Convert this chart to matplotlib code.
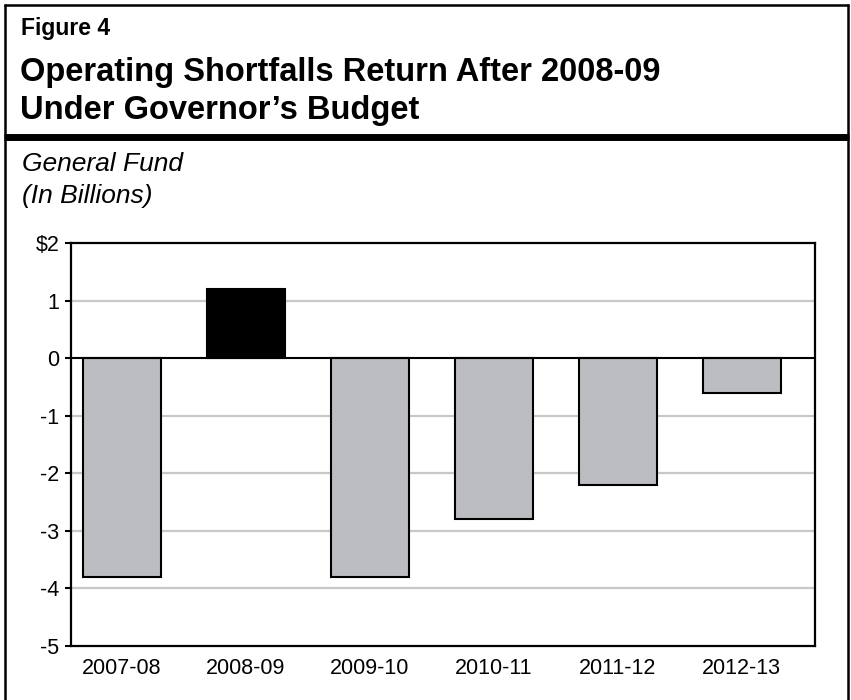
import matplotlib
matplotlib.use("Agg")
import matplotlib.pyplot as plt
from matplotlib.lines import Line2D

# Operating balance by fiscal year, General Fund ($ billions)
years = ["2007-08", "2008-09", "2009-10", "2010-11", "2011-12", "2012-13"]
balance = [-3.8, 1.2, -3.8, -2.8, -2.2, -0.6]
bar_colors = ["#bcbdc0", "#000000", "#bcbdc0", "#bcbdc0", "#bcbdc0", "#bcbdc0"]
y_ticks = [2, 1, 0, -1, -2, -3, -4, -5]
y_tick_labels = ["$2", "1", "0", "-1", "-2", "-3", "-4", "-5"]

W, H = 851, 700
plt.rcParams["font.family"] = ["Liberation Sans", "DejaVu Sans"]
fig = plt.figure(figsize=(W / 100, H / 100), dpi=100)

def fx(px):
    return px / W

def fy(py):
    return 1 - py / H

# Frame around the figure and the heavy rule under the heading
frame_kw = dict(color="black", transform=fig.transFigure, solid_capstyle="butt")
fig.add_artist(Line2D([fx(4), fx(849)], [fy(5), fy(5)], lw=1.8, **frame_kw))
fig.add_artist(Line2D([fx(5), fx(5)], [fy(4), fy(700)], lw=1.8, **frame_kw))
fig.add_artist(Line2D([fx(848), fx(848)], [fy(4), fy(700)], lw=1.8, **frame_kw))
fig.add_artist(Line2D([fx(4), fx(849)], [fy(136.5), fy(136.5)], lw=5.0, **frame_kw))

# Heading
fig.text(fx(21), fy(35), "Figure 4", fontsize=16.5, fontweight="bold", va="baseline")
fig.text(fx(20), fy(81), "Operating Shortfalls Return After 2008-09",
         fontsize=23.5, fontweight="bold", va="baseline")
fig.text(fx(20), fy(119), "Under Governor\u2019s Budget",
         fontsize=23.5, fontweight="bold", va="baseline")
fig.text(fx(22), fy(171), "General Fund", fontsize=19, style="italic", va="baseline")
fig.text(fx(22), fy(203), "(In Billions)", fontsize=19, style="italic", va="baseline")

# Plot area
ax = fig.add_axes([fx(71), fy(646), fx(815) - fx(71), fy(243) - fy(646)])
x = list(range(len(years)))
ax.bar(x, balance, width=0.63, color=bar_colors, edgecolor="black",
       linewidth=1.5, zorder=3)

ax.set_xlim(-0.41, 5.59)
ax.set_ylim(-5, 2)
ax.set_yticks(y_ticks)
ax.set_yticklabels(y_tick_labels)
ax.set_xticks(x)
ax.set_xticklabels(years)

for v in y_ticks:
    if v in (2, -5):
        continue
    if v == 0:
        ax.axhline(0, color="black", lw=1.5, zorder=4)
    else:
        ax.axhline(v, color="#c8c8c8", lw=1.6, zorder=1)

for s in ax.spines.values():
    s.set_linewidth(1.6)
    s.set_color("black")
    s.set_zorder(5)

ax.tick_params(axis="y", direction="out", length=4.5, width=1.5,
               labelsize=15.5, pad=4)
ax.tick_params(axis="x", length=0, labelsize=15.5, pad=9)

fig.savefig("out.png", dpi=100)
